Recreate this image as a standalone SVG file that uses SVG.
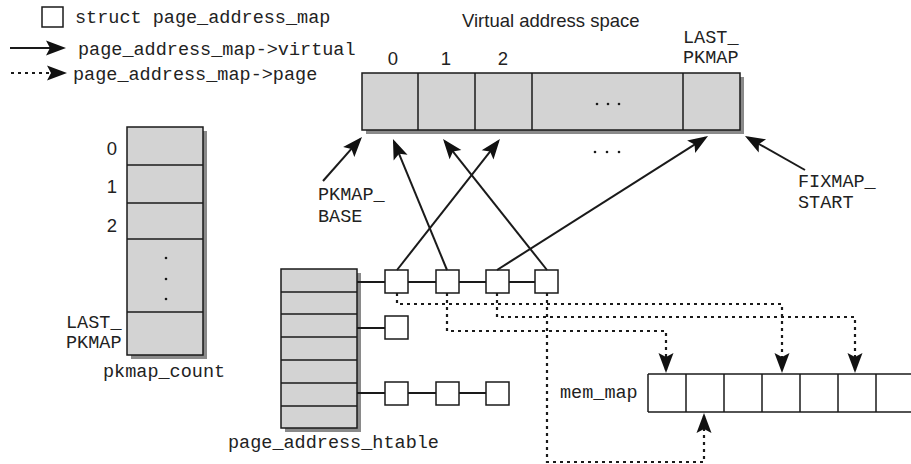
<svg xmlns="http://www.w3.org/2000/svg" width="911" height="464" viewBox="0 0 911 464">
<style>
.mono{font-family:"Liberation Mono","DejaVu Sans Mono",monospace;font-size:18.5px;fill:#222}
.sans{font-family:"Liberation Sans",Arial,sans-serif;font-size:18.5px;fill:#222}
.cell{fill:#d3d3d3;stroke:#1a1a1a;stroke-width:1.5}
.shadow{fill:#8a8a8a}
.div{stroke:#1a1a1a;stroke-width:1.5}
.box{fill:#fff;stroke:#1a1a1a;stroke-width:1.5}
.solid{fill:none;stroke:#1a1a1a;stroke-width:2}
.dot{fill:none;stroke:#1a1a1a;stroke-width:2.2;stroke-dasharray:3 4}
.link{stroke:#1a1a1a;stroke-width:2}
.dots{fill:#1a1a1a}
</style>
<defs>
<marker id="ah" markerUnits="userSpaceOnUse" markerWidth="24" markerHeight="18" viewBox="-19 -9 24 18" refX="0" refY="0" orient="auto">
<path d="M3,0 L-17,-7.5 L-13,0 L-17,7.5 Z" fill="#111"/>
</marker>
</defs>
<rect width="911" height="464" fill="#fff"/>

<g id="legend">
<rect class="box" x="42" y="7" width="21" height="20"/>
<text class="mono" x="75" y="23">struct page_address_map</text>
<line class="solid" x1="10" y1="48" x2="63" y2="48" marker-end="url(#ah)"/>
<text class="mono" x="78" y="55">page_address_map-&gt;virtual</text>
<line class="dot" x1="11" y1="73" x2="64" y2="73" marker-end="url(#ah)"/>
<text class="mono" x="73" y="80">page_address_map-&gt;page</text>
</g>

<g id="virtual_space">
<text class="sans" x="462" y="27">Virtual address space</text>
<rect class="shadow" x="366" y="77" width="378" height="57"/>
<rect class="cell" x="362" y="73" width="378" height="57"/>
<line class="div" x1="418" y1="73" x2="418" y2="130"/>
<line class="div" x1="475" y1="73" x2="475" y2="130"/>
<line class="div" x1="532" y1="73" x2="532" y2="130"/>
<line class="div" x1="683" y1="73" x2="683" y2="130"/>
<text class="sans" x="393" y="65" text-anchor="middle">0</text>
<text class="sans" x="446" y="65" text-anchor="middle">1</text>
<text class="sans" x="503" y="65" text-anchor="middle">2</text>
<text class="mono" x="683" y="43">LAST_</text>
<text class="mono" x="683" y="63">PKMAP</text>
<circle class="dots" cx="597" cy="104" r="1.3"/>
<circle class="dots" cx="608" cy="104" r="1.3"/>
<circle class="dots" cx="619" cy="104" r="1.3"/>
<circle class="dots" cx="595" cy="152" r="1.3"/>
<circle class="dots" cx="607" cy="152" r="1.3"/>
<circle class="dots" cx="619" cy="152" r="1.3"/>
</g>

<g id="pkmap_base">
<text class="mono" x="318" y="200">PKMAP_</text>
<text class="mono" x="318" y="222">BASE</text>
</g>

<g id="fixmap_start">
<text class="mono" x="798" y="187">FIXMAP_</text>
<text class="mono" x="798" y="208">START</text>
</g>

<g id="pkmap_count">
<rect class="shadow" x="131" y="131" width="76" height="228"/>
<rect class="cell" x="127" y="127" width="76" height="228"/>
<line class="div" x1="127" y1="165" x2="203" y2="165"/>
<line class="div" x1="127" y1="203" x2="203" y2="203"/>
<line class="div" x1="127" y1="239" x2="203" y2="239"/>
<line class="div" x1="127" y1="312" x2="203" y2="312"/>
<text class="sans" x="112" y="155" text-anchor="middle">0</text>
<text class="sans" x="112" y="193" text-anchor="middle">1</text>
<text class="sans" x="112" y="232" text-anchor="middle">2</text>
<circle class="dots" cx="166" cy="258" r="1.3"/>
<circle class="dots" cx="166" cy="279" r="1.3"/>
<circle class="dots" cx="166" cy="299" r="1.3"/>
<text class="mono" x="66" y="328">LAST_</text>
<text class="mono" x="66" y="348">PKMAP</text>
<text class="mono" x="103" y="377">pkmap_count</text>
</g>

<g id="page_address_htable">
<rect class="shadow" x="285" y="273" width="76" height="159"/>
<rect class="cell" x="281" y="269" width="76" height="159"/>
<line class="div" x1="281" y1="292" x2="357" y2="292"/>
<line class="div" x1="281" y1="314" x2="357" y2="314"/>
<line class="div" x1="281" y1="337" x2="357" y2="337"/>
<line class="div" x1="281" y1="360" x2="357" y2="360"/>
<line class="div" x1="281" y1="383" x2="357" y2="383"/>
<line class="div" x1="281" y1="406" x2="357" y2="406"/>
<text class="mono" x="228" y="448">page_address_htable</text>
</g>

<g id="pam_1_1"><rect class="box" x="385" y="270" width="23" height="23"/></g>
<g id="pam_1_2"><rect class="box" x="436" y="270" width="23" height="23"/></g>
<g id="pam_1_3"><rect class="box" x="486" y="270" width="23" height="23"/></g>
<g id="pam_1_4"><rect class="box" x="535" y="270" width="23" height="23"/></g>
<g id="pam_2_1"><rect class="box" x="385" y="316" width="23" height="23"/></g>
<g id="pam_3_1"><rect class="box" x="385" y="382" width="23" height="23"/></g>
<g id="pam_3_2"><rect class="box" x="436" y="382" width="23" height="23"/></g>
<g id="pam_3_3"><rect class="box" x="486" y="382" width="23" height="23"/></g>

<g id="mem_map">
<line class="div" x1="648" y1="374" x2="911" y2="374"/>
<line class="div" x1="648" y1="412" x2="911" y2="412"/>
<line class="div" x1="648" y1="374" x2="648" y2="412"/>
<line class="div" x1="686" y1="374" x2="686" y2="412"/>
<line class="div" x1="724" y1="374" x2="724" y2="412"/>
<line class="div" x1="762" y1="374" x2="762" y2="412"/>
<line class="div" x1="800" y1="374" x2="800" y2="412"/>
<line class="div" x1="838" y1="374" x2="838" y2="412"/>
<line class="div" x1="876" y1="374" x2="876" y2="412"/>
<text class="mono" x="560" y="398">mem_map</text>
</g>

<g id="connectors">
<line class="link" x1="357" y1="282" x2="385" y2="282"/>
<line class="link" x1="408" y1="282" x2="436" y2="282"/>
<line class="link" x1="459" y1="282" x2="486" y2="282"/>
<line class="link" x1="509" y1="282" x2="535" y2="282"/>
<line class="link" x1="357" y1="328" x2="385" y2="328"/>
<line class="link" x1="357" y1="393" x2="385" y2="393"/>
<line class="link" x1="408" y1="393" x2="436" y2="393"/>
<line class="link" x1="459" y1="393" x2="486" y2="393"/>

<line class="solid" x1="397" y1="270" x2="498.1" y2="141.4" marker-end="url(#ah)"/>
<line class="solid" x1="447" y1="270" x2="394.1" y2="141.8" marker-end="url(#ah)"/>
<line class="solid" x1="497" y1="270" x2="705.5" y2="137.6" marker-end="url(#ah)"/>
<line class="solid" x1="547" y1="270" x2="444.9" y2="141.3" marker-end="url(#ah)"/>
<line class="solid" x1="323" y1="181" x2="360" y2="139.2" marker-end="url(#ah)"/>
<line class="solid" x1="805" y1="170" x2="747.6" y2="137.5" marker-end="url(#ah)"/>

<polyline class="dot" points="397,293 397,304 782,304 782,370" marker-end="url(#ah)"/>
<polyline class="dot" points="497,293 497,317 855,317 855,370" marker-end="url(#ah)"/>
<polyline class="dot" points="447,293 447,331 666,331 666,370" marker-end="url(#ah)"/>
<polyline class="dot" points="547,293 547,462 704,462 704,416" marker-end="url(#ah)"/>
</g>
</svg>
